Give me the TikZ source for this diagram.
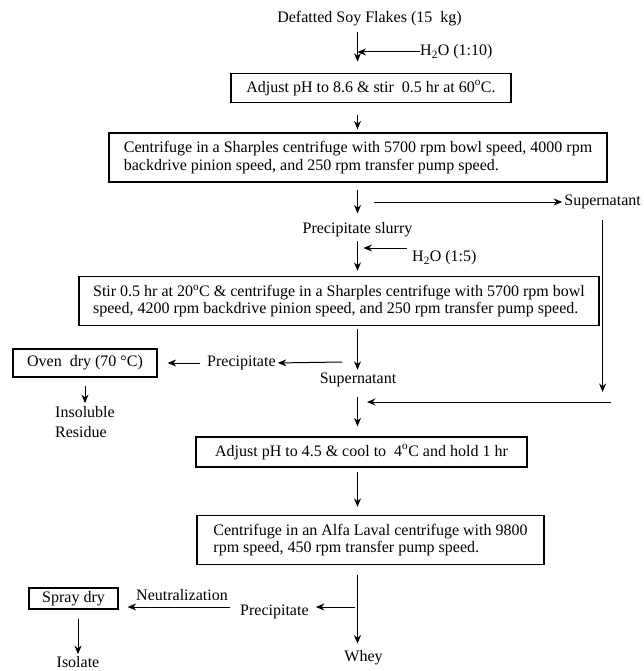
\documentclass[tikz,border=0pt]{standalone}
\usepackage{fontspec}
\setmainfont{Liberation Serif}
\usetikzlibrary{arrows.meta}
\begin{document}
\begin{tikzpicture}[x=1pt,y=-1pt,
  every node/.style={font=\fontsize{16}{17.5}\selectfont, inner sep=0pt},
  box/.style={draw, line width=1.3pt, align=left},
  arr/.style={-{Stealth[length=8.5pt,width=7pt]}, line width=1pt},
  ln/.style={line width=1pt}]
\useasboundingbox (0,0) rectangle (644,671);
\coordinate (ax) at (357.5,0);
% nodes
\node (soy) at (369.5,19) {Defatted Soy Flakes (15~ kg)};
\node[anchor=west] (h1) at (420,52) {H\textsubscript{2}O (1:10)};
\node[box, minimum width=280pt, minimum height=29.5pt] (b1) at (371,88) {Adjust pH to 8.6 \& stir~ 0.5 hr at 60\textsuperscript{o}C.};
\node[box, minimum width=498pt, minimum height=49pt] (b2) at (358,157.5) {Centrifuge in a Sharples centrifuge with 5700 rpm bowl speed, 4000 rpm\\ backdrive pinion speed, and 250 rpm transfer pump speed.};
\node[anchor=east] (sup1) at (641,202) {Supernatant};
\node (slurry) at (357.5,230) {Precipitate slurry};
\node[anchor=west] (h2) at (412,258) {H\textsubscript{2}O (1:5)};
\node[box, minimum width=520pt, minimum height=49pt] (b3) at (339,301) {Stir 0.5 hr at 20\textsuperscript{o}C \& centrifuge in a Sharples centrifuge with 5700 rpm bowl\\ speed, 4200 rpm backdrive pinion speed, and 250 rpm transfer pump speed.};
\node[box, minimum width=144pt, minimum height=28pt] (oven) at (85,363) {Oven~ dry (70~°C)};
\node[anchor=west] (prec1) at (207,363) {Precipitate};
\node (sup2) at (358,380) {Supernatant};
\node[anchor=west, align=left] (insol) at (55,422) {Insoluble\\[2.5pt]Residue};
\node[box, minimum width=331pt, minimum height=30pt] (b4) at (361.5,452) {Adjust pH to 4.5 \& cool to~ 4\textsuperscript{o}C and hold 1 hr};
\node[box, minimum width=347pt, minimum height=49pt] (b5) at (370.5,540) {Centrifuge in an Alfa Laval centrifuge with 9800\\ rpm speed, 450 rpm transfer pump speed.};
\node[box, minimum width=89pt, minimum height=21pt] (spray) at (73.5,598.5) {Spray dry};
\node (neut) at (182,595) {Neutralization};
\node[anchor=west] (prec2) at (240,612) {Precipitate};
\node (isolate) at (78,662) {Isolate};
\node (whey) at (363.5,658) {Whey};
% free ends
\coordinate (c1) at (374,202);
\coordinate (rj) at (611,402);
\coordinate (c2) at (407,248);
\coordinate (c3) at (342,362);
\coordinate (c4) at (355,607);
% connectors
\draw[arr, shorten <=5pt, shorten >=11pt] (soy.south -| ax) -- (b1.north -| ax);
\draw[arr] (h1.west) -- (h1.west -| ax);
\draw[arr, shorten <=12pt, shorten >=3pt] (b1.south -| ax) -- (b2.north -| ax);
\draw[arr, shorten <=7pt, shorten >=9pt] (b2.south -| ax) -- (slurry.north -| ax);
\draw[arr, shorten >=2pt] (c1) -- (sup1.west);
\draw[arr, shorten <=11pt, shorten >=10pt] (sup1.south) -- (sup1.south |- rj);
\draw[arr, shorten >=9.5pt] (rj) -- (rj -| ax);
\draw[arr, shorten <=4pt, shorten >=5pt] (slurry.south -| ax) -- (b3.north -| ax);
\draw[arr, shorten >=6pt] (c2) -- (c2 -| ax);
\draw[arr, shorten <=2.5pt, shorten >=3pt] (b3.south -| ax) -- (sup2.north -| ax);
\draw[arr, shorten >=2pt] (c3) -- (prec1.east);
\draw[arr, shorten <=7pt, shorten >=10pt] (prec1.west) -- (oven.east);
\draw[arr, shorten <=8pt, shorten >=3pt] (oven.south) -- (insol.north -| oven.south);
\draw[arr, shorten <=10pt, shorten >=10pt] (sup2.south -| ax) -- (b4.north -| ax);
\draw[arr, shorten <=4pt, shorten >=8pt] (b4.south -| ax) -- (b5.north -| ax);
\draw[arr, shorten <=10pt, shorten >=7pt] (b5.south -| ax) -- (whey.north -| ax);
\draw[arr, shorten >=7pt] (c4) -- (c4 -| prec2.east);
\draw[arr, shorten <=10pt, shorten >=9pt] (c4 -| prec2.west) -- (c4 -| spray.east);
\draw[arr, shorten <=9pt, shorten >=2pt] (spray.south -| isolate.north) -- (isolate.north);
\end{tikzpicture}
\end{document}
